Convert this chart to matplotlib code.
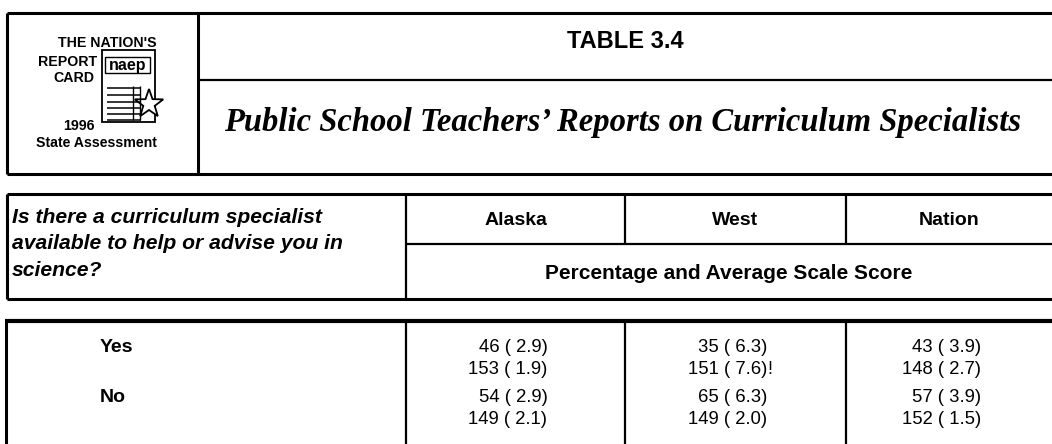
import matplotlib.pyplot as plt
from matplotlib.patches import Rectangle
import matplotlib.patches as mpatches
import numpy as np

# table data
regions = ["Alaska", "West", "Nation"]
answers = ["Yes", "No"]
pct = [[46, 54], [35, 65], [43, 57]]
pct_se = [[2.9, 2.9], [6.3, 6.3], [3.9, 3.9]]
score = [[153, 149], [151, 149], [148, 152]]
score_se = [[1.9, 2.1], [7.6, 2.0], [2.7, 1.5]]
score_flag = [["", ""], ["!", ""], ["", ""]]

title = "TABLE 3.4"
subtitle = "Public School Teachers\u2019 Reports on Curriculum Specialists"
question = ["Is there a curriculum specialist",
            "available to help or advise you in",
            "science?"]
units = "Percentage and Average Scale Score"

SANS = ["Liberation Sans", "DejaVu Sans"]
SERIF = ["Liberation Serif", "DejaVu Serif"]

fig = plt.figure(figsize=(10.52, 4.44), dpi=100)
ax = fig.add_axes([0, 0, 1, 1])
ax.set_xlim(0, 1052)
ax.set_ylim(444, 0)
ax.axis("off")

W = 1060  # lines run off the right edge
thick = 2.2
thin = 1.6

def hline(y, x0, x1, lw=thin):
    ax.plot([x0, x1], [y, y], color="black", lw=lw, solid_capstyle="butt")

def vline(x, y0, y1, lw=thin):
    ax.plot([x, x], [y0, y1], color="black", lw=lw, solid_capstyle="butt")

# ---- title block ----
hline(13, 7, W, thick)
hline(174, 7, W, thick)
vline(7, 13, 174, thick)
vline(198, 13, 174, thick)
hline(80, 198, W, thin)

ax.text(625, 41, title, ha="center", va="center", fontsize=17,
        fontweight="bold", family=SANS)
ax.text(623, 122, subtitle, ha="center", va="center", fontsize=23.5,
        fontweight="bold", fontstyle="italic", family=SERIF)

# logo
logo_font = dict(fontsize=10.2, fontweight="bold", family=SANS, va="center")
ax.text(157, 43, "THE NATION'S", ha="right", **logo_font)
ax.text(97, 62, "REPORT", ha="right", **logo_font)
ax.text(94, 78, "CARD", ha="right", **logo_font)
ax.text(95, 126, "1996", ha="right", **logo_font)
ax.text(96, 143, "State Assessment", ha="center", **logo_font)
ax.add_patch(Rectangle((102, 50), 53, 72, fill=False, lw=1.3, ec="black"))
ax.add_patch(Rectangle((105, 57), 45, 16, fill=False, lw=1.0, ec="black"))
ax.text(127.5, 65.5, "naep", ha="center", va="center", fontsize=11.5,
        fontweight="bold", family=SANS)
for yy in [88, 95, 102, 108, 114, 120]:
    hline(yy, 107, 141, 1.1)
vline(133, 86, 120, 1.0)
vline(140, 86, 120, 1.0)
ang = np.linspace(np.pi / 2, np.pi / 2 + 2 * np.pi, 11)[:-1]
rad = np.where(np.arange(10) % 2 == 0, 15, 6)
star = np.column_stack([149 + rad * np.cos(ang), 104 - rad * np.sin(ang)])
ax.add_patch(mpatches.Polygon(star, closed=True, fc="white", ec="black", lw=1.3))

# ---- header block ----
col_x = [406, 625, 846, 1052]
hline(194, 7, W, thick)
hline(299, 7, W, thick)
vline(7, 194, 299, thick)
vline(col_x[0], 194, 299, thin)
hline(244, col_x[0], W, thin)
for x in col_x[1:3]:
    vline(x, 194, 244, thin)

for k, line in enumerate(question):
    ax.text(12, 217 + 26.5 * k, line, ha="left", va="center", fontsize=15.2,
            fontweight="bold", fontstyle="italic", family=SANS)
for i, name in enumerate(regions):
    ax.text((col_x[i] + col_x[i + 1]) / 2, 220, name, ha="center",
            va="center", fontsize=14, fontweight="bold", family=SANS)
ax.text((col_x[0] + col_x[3]) / 2, 273, units, ha="center", va="center",
        fontsize=15, fontweight="bold", family=SANS)

# ---- data block ----
hline(321, 5, W, thick + 0.8)
vline(6, 321, 450, thick)
for x in col_x[:3]:
    vline(x, 321, 450, thin)

row_y = [347, 397]
for j, ans in enumerate(answers):
    ax.text(100, row_y[j], ans, ha="left", va="center", fontsize=14,
            fontweight="bold", family=SANS)
    for i in range(len(regions)):
        right = (col_x[i] + col_x[i + 1]) / 2 + 32
        ax.text(right, row_y[j], f"{pct[i][j]} ( {pct_se[i][j]:.1f})",
                ha="right", va="center", fontsize=13.3, family=SANS)
        ax.text(right, row_y[j] + 22, f"{score[i][j]} ( {score_se[i][j]:.1f})",
                ha="right", va="center", fontsize=13.3, family=SANS)
        if score_flag[i][j]:
            ax.text(right, row_y[j] + 22, score_flag[i][j], ha="left",
                    va="center", fontsize=13.3, family=SANS)

fig.savefig("out.png", dpi=100, facecolor="white")
